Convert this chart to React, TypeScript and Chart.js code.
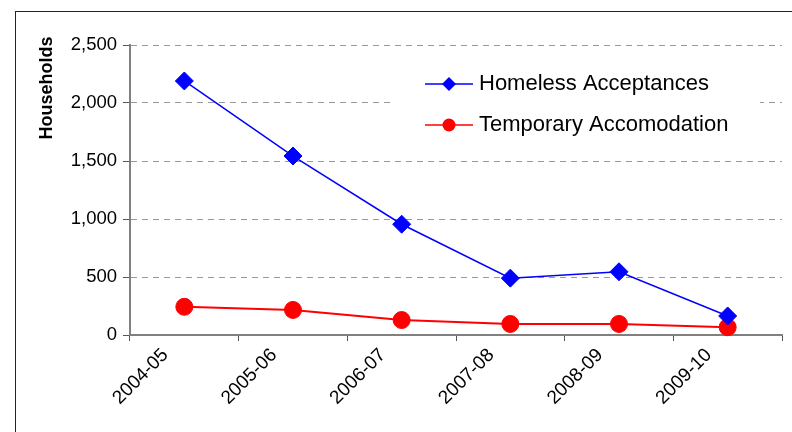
import React, { useEffect, useRef } from "react";
import { Chart, registerables } from "chart.js";

Chart.register(...registerables);

const categories = ["2004-05", "2005-06", "2006-07", "2007-08", "2008-09", "2009-10"];
const homelessAcceptances = [2190, 1543, 955, 490, 545, 164];
const temporaryAccomodation = [243, 216, 129, 95, 95, 67];
const seriesNames = ["Homeless Acceptances", "Temporary Accomodation"];
const yAxisTitle = "Households";
const yTicks = [0, 500, 1000, 1500, 2000, 2500];

const FONT = "'Liberation Sans', Arial, sans-serif";
const BLUE = "#0000FF";
const RED = "#FF0000";

const overlayPlugin = {
  id: "overlay",
  afterDatasetsDraw(chart: any) {
    const ctx = chart.ctx;
    ctx.save();
    // legend box (white, covers gridlines)
    ctx.fillStyle = "#ffffff";
    ctx.fillRect(393, 58, 367, 90);
    const items = [
      { name: seriesNames[0], color: BLUE, style: "rectRot", y: 84, r: 7 },
      { name: seriesNames[1], color: RED, style: "circle", y: 125, r: 6.5 },
    ];
    items.forEach((it) => {
      ctx.strokeStyle = it.color;
      ctx.lineWidth = 1.5;
      ctx.beginPath();
      ctx.moveTo(425, it.y);
      ctx.lineTo(473, it.y);
      ctx.stroke();
      ctx.fillStyle = it.color;
      ctx.beginPath();
      if (it.style === "circle") {
        ctx.arc(449, it.y, it.r, 0, Math.PI * 2);
      } else {
        ctx.moveTo(449 - it.r, it.y);
        ctx.lineTo(449, it.y - it.r);
        ctx.lineTo(449 + it.r, it.y);
        ctx.lineTo(449, it.y + it.r);
        ctx.closePath();
      }
      ctx.fill();
      ctx.fillStyle = "#000000";
      ctx.font = `22px ${FONT}`;
      ctx.textAlign = "left";
      ctx.textBaseline = "alphabetic";
      ctx.fillText(it.name, 479, it.y + 6);
    });
    // y-axis title
    ctx.translate(52, 88);
    ctx.rotate(-Math.PI / 2);
    ctx.font = `bold 18px ${FONT}`;
    ctx.fillStyle = "#000000";
    ctx.textAlign = "center";
    ctx.textBaseline = "alphabetic";
    ctx.fillText(yAxisTitle, 0, 0);
    ctx.restore();
  },
};

export default function App() {
  const canvasRef = useRef<HTMLCanvasElement | null>(null);

  useEffect(() => {
    if (!canvasRef.current) return;
    const chart = new Chart(canvasRef.current, {
      type: "line",
      data: {
        labels: categories,
        datasets: [
          {
            label: seriesNames[0],
            data: homelessAcceptances,
            borderColor: BLUE,
            backgroundColor: BLUE,
            borderWidth: 1.5,
            pointStyle: "rectRot",
            pointRadius: 9,
            pointBorderWidth: 1,
            pointBackgroundColor: BLUE,
            pointBorderColor: BLUE,
            tension: 0,
            clip: false,
          },
          {
            label: seriesNames[1],
            data: temporaryAccomodation,
            borderColor: RED,
            backgroundColor: RED,
            borderWidth: 2,
            pointStyle: "circle",
            pointRadius: 8.5,
            pointBorderWidth: 1,
            pointBackgroundColor: RED,
            pointBorderColor: RED,
            tension: 0,
            clip: false,
          },
        ],
      },
      options: {
        responsive: false,
        animation: false,
        layout: { padding: { top: 45, left: 0, right: 6, bottom: 0 } },
        plugins: {
          legend: { display: false },
          tooltip: { enabled: false },
        },
        scales: {
          x: {
            type: "category",
            offset: true,
            afterFit: (scale: any) => {
              scale.height = 97;
            },
            grid: {
              offset: true,
              drawOnChartArea: false,
              drawTicks: true,
              tickLength: 6,
              tickColor: "#555",
              tickWidth: 1,
            },
            border: { color: "#808080", width: 2 },
            ticks: {
              minRotation: 45,
              maxRotation: 45,
              labelOffset: -19,
              padding: 3,
              color: "#000",
              font: { family: FONT, size: 19 },
            },
          },
          y: {
            min: 0,
            max: 2500,
            afterFit: (scale: any) => {
              scale.width = 130;
            },
            afterBuildTicks: (scale: any) => {
              scale.ticks = yTicks.map((v) => ({ value: v }));
            },
            grid: {
              color: "#999",
              lineWidth: 1,
              tickLength: 7,
              tickColor: "#555",
              tickBorderDash: [],
            },
            border: { color: "#808080", width: 2, dash: [6, 5] },
            ticks: {
              padding: 6,
              color: "#000",
              font: { family: FONT, size: 18.5 },
              callback: (v: any) => Number(v).toLocaleString("en-US"),
            },
          },
        },
      },
      plugins: [overlayPlugin],
    });
    return () => chart.destroy();
  }, []);

  return (
    <div
      style={{
        position: "fixed",
        left: 0,
        top: 0,
        width: 792,
        height: 432,
        overflow: "hidden",
        background: "#fff",
      }}
    >
      <div
        style={{
          position: "absolute",
          left: 15,
          top: 11,
          width: 820,
          height: 460,
          border: "1px solid #222",
          boxSizing: "border-box",
        }}
      />
      <canvas
        ref={canvasRef}
        width={792}
        height={432}
        style={{ position: "absolute", left: 0, top: 0, width: 792, height: 432 }}
      />
    </div>
  );
}
